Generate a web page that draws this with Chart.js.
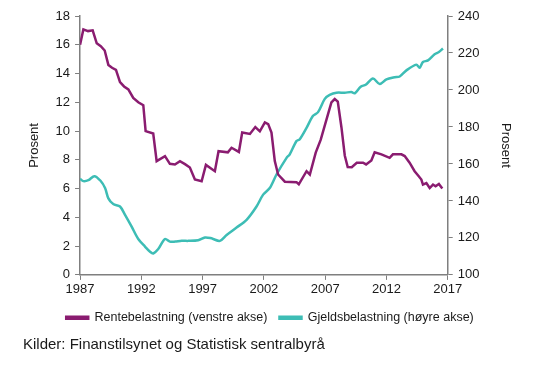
<!DOCTYPE html>
<html>
<head>
<meta charset="utf-8">
<script src="https://cdn.jsdelivr.net/npm/chart.js@4"></script>
<style>
  html, body { margin: 0; padding: 0; background: #fff; }
  #wrap { width: 535px; height: 365px; }
</style>
</head>
<body>
<div id="wrap"><canvas id="chart"></canvas></div>
<script>
// Rentebelastning (venstre akse), prosent
const renteYears = [1987.00, 1987.27, 1987.65, 1988.03, 1988.36, 1988.69, 1989.01, 1989.31, 1989.61, 1989.93,
  1990.26, 1990.59, 1990.94, 1991.34, 1991.75, 1992.16, 1992.35, 1992.97, 1993.25, 1993.93,
  1994.33, 1994.74, 1995.15, 1995.56, 1995.96, 1996.37, 1996.92, 1997.27, 1998.00, 1998.30,
  1999.06, 1999.36, 1999.96, 2000.23, 2000.86, 2001.30, 2001.67, 2002.08, 2002.35, 2002.62,
  2002.89, 2003.16, 2003.71, 2004.66, 2004.85, 2005.48, 2005.75, 2006.23, 2006.64, 2007.24,
  2007.51, 2007.78, 2008.03, 2008.33, 2008.60, 2008.84, 2009.17, 2009.58, 2010.09, 2010.34,
  2010.77, 2011.04, 2011.59, 2012.26, 2012.53, 2013.22, 2013.49, 2013.89, 2014.30, 2014.57,
  2014.85, 2014.98, 2015.26, 2015.53, 2015.80, 2016.01, 2016.28, 2016.56];
const renteValues = [16.0, 17.07, 16.95, 17.0, 16.1, 15.9, 15.6, 14.6, 14.4, 14.26,
  13.4, 13.1, 12.9, 12.3, 12.0, 11.8, 10.0, 9.83, 7.91, 8.26,
  7.72, 7.68, 7.91, 7.7, 7.47, 6.63, 6.51, 7.65, 7.21, 8.6,
  8.52, 8.84, 8.55, 9.9, 9.8, 10.28, 9.98, 10.6, 10.48, 9.9,
  7.91, 6.98, 6.48, 6.45, 6.3, 7.21, 6.98, 8.5, 9.4, 11.2,
  12.0, 12.23, 12.05, 10.25, 8.3, 7.5, 7.49, 7.8, 7.8, 7.68,
  7.95, 8.53, 8.38, 8.14, 8.38, 8.38, 8.26, 7.8, 7.21, 6.93,
  6.63, 6.28, 6.39, 6.04, 6.28, 6.16, 6.32, 6.0];

// Gjeldsbelastning (høyre akse), prosent
const gjeldYears = [1987.00, 1987.27, 1987.68, 1988.17, 1988.67, 1989.04, 1989.31, 1989.71, 1990.26, 1990.67,
  1991.21, 1991.75, 1992.30, 1992.71, 1992.97, 1993.38, 1993.93, 1994.33, 1994.74, 1995.29,
  1995.83, 1996.64, 1997.19, 1997.73, 1997.86, 1998.41, 1998.96, 1999.77, 2000.59, 2001.40,
  2001.94, 2002.48, 2003.03, 2003.85, 2004.11, 2004.66, 2004.93, 2005.48, 2006.01, 2006.42,
  2006.97, 2007.37, 2007.92, 2008.60, 2009.14, 2009.41, 2009.90, 2010.31, 2010.90, 2011.45,
  2012.00, 2012.67, 2013.08, 2013.63, 2014.44, 2014.71, 2014.98, 2015.39, 2015.93, 2016.28,
  2016.61];
const gjeldValues = [152.0, 150.7, 151.2, 153.4, 150.9, 147.0, 141.4, 138.3, 137.0, 132.5,
  126.1, 119.4, 115.3, 112.5, 111.6, 114.0, 119.4, 118.0, 118.0, 118.5,
  118.4, 118.7, 120.2, 119.8, 119.4, 118.4, 121.6, 125.6, 129.8, 137.0,
  143.4, 147.0, 154.3, 163.3, 165.2, 172.4, 173.4, 179.5, 186.0, 188.0,
  195.2, 197.3, 198.5, 198.5, 198.9, 198.2, 201.8, 202.8, 206.2, 203.2,
  205.7, 206.9, 207.3, 210.6, 213.7, 212.0, 215.1, 216.0, 219.3, 220.5,
  222.4];

const xTicks = [1987, 1992, 1997, 2002, 2007, 2012, 2017];

const RENTE_COLOR = '#8A1C70';
const GJELD_COLOR = '#3DBDB5';
const AXIS_COLOR = '#7f7f7f';
const TEXT_COLOR = '#1a1a1a';

Chart.defaults.font.family = "'Liberation Sans', Arial, sans-serif";
Chart.defaults.font.size = 13;
Chart.defaults.color = TEXT_COLOR;

const toPoints = (xs, ys) => xs.map((x, i) => ({ x, y: ys[i] }));

const axisGrid = {
  display: true,
  drawOnChartArea: false,
  drawTicks: true,
  tickLength: 5,
  color: AXIS_COLOR,
};

new Chart(document.getElementById('chart'), {
  type: 'line',
  data: {
    datasets: [
      {
        label: 'Rentebelastning (venstre akse)',
        data: toPoints(renteYears, renteValues),
        borderColor: RENTE_COLOR,
        backgroundColor: RENTE_COLOR,
        borderWidth: 2.5,
        pointRadius: 0,
        tension: 0,
        yAxisID: 'y',
      },
      {
        label: 'Gjeldsbelastning (høyre akse)',
        data: toPoints(gjeldYears, gjeldValues),
        borderColor: GJELD_COLOR,
        backgroundColor: GJELD_COLOR,
        borderWidth: 2.5,
        pointRadius: 0,
        tension: 0.3,
        yAxisID: 'y2',
      },
    ],
  },
  options: {
    responsive: true,
    maintainAspectRatio: false,
    animation: false,
    layout: { padding: { left: 23, right: 18, top: 16, bottom: 11 } },
    plugins: {
      legend: {
        position: 'bottom',
        labels: { boxWidth: 22, boxHeight: 2, padding: 12, font: { size: 12.5 } },
      },
      subtitle: {
        display: true,
        position: 'bottom',
        align: 'start',
        text: 'Kilder: Finanstilsynet og Statistisk sentralbyrå',
        font: { size: 15 },
        color: TEXT_COLOR,
        padding: { top: 2, bottom: 0 },
      },
      tooltip: { enabled: false },
    },
    scales: {
      x: {
        type: 'linear',
        min: 1987,
        max: 2017,
        afterBuildTicks: axis => { axis.ticks = xTicks.map(v => ({ value: v })); },
        ticks: { callback: v => String(v), maxRotation: 0, padding: 2 },
        grid: axisGrid,
        border: { color: AXIS_COLOR, width: 1.5 },
      },
      y: {
        position: 'left',
        min: 0,
        max: 18,
        ticks: { stepSize: 2, padding: 5 },
        grid: axisGrid,
        border: { color: AXIS_COLOR, width: 1.5 },
        title: { display: true, text: 'Prosent', font: { size: 13 }, padding: { top: 4, bottom: 8 } },
      },
      y2: {
        position: 'right',
        min: 100,
        max: 240,
        ticks: { stepSize: 20, padding: 5 },
        grid: axisGrid,
        border: { color: AXIS_COLOR, width: 1.5 },
        title: { display: true, text: 'Prosent', font: { size: 13 }, padding: { top: 4, bottom: 13 } },
      },
    },
  },
});
</script>
</body>
</html>
